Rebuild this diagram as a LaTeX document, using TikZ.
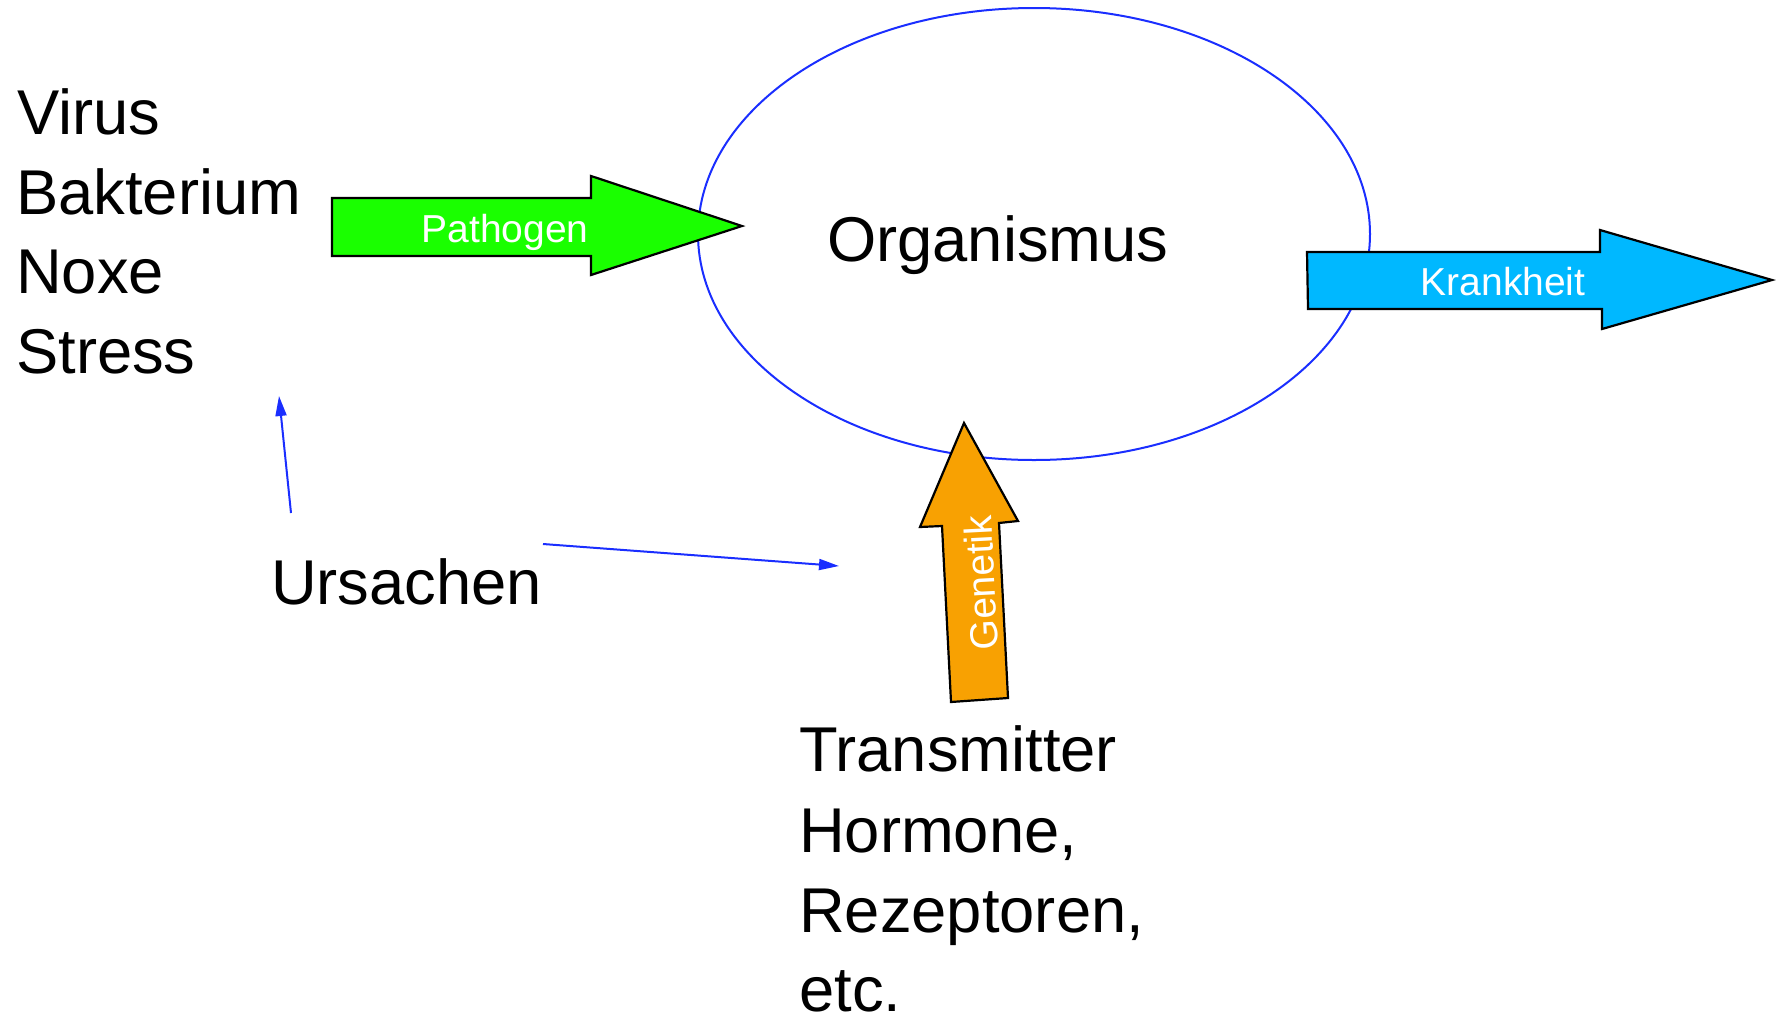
\documentclass[tikz,border=0pt]{standalone}
\usepackage{fontspec}
\setmainfont{Liberation Sans}
\usetikzlibrary{arrows.meta}
\definecolor{pathgreen}{HTML}{1AFF00}
\definecolor{krankblue}{HTML}{00B8FF}
\definecolor{genorange}{HTML}{F8A102}
\definecolor{linkblue}{HTML}{1A2EFF}
\tikzset{
  bigtext/.style={inner sep=0pt, anchor=base west, font=\fontsize{63.3}{80}\selectfont},
  arrowtext/.style={inner sep=0pt, anchor=base, text=white, font=\fontsize{39}{46}\selectfont},
  blockarrow/.style={draw=black, line width=2.2pt, line join=miter},
  causearrow/.style={draw=linkblue, line width=2pt, -{Triangle[length=20pt,width=11pt]}}
}
\begin{document}
\begin{tikzpicture}[x=1pt,y=-1pt]
\useasboundingbox (0,0) rectangle (1776,1015);
% Organism ellipse
\draw[linkblue, line width=2pt] (1034,234) ellipse [x radius=336, y radius=226];
\node[bigtext] (org) at (827,261) {Organismus};
% Pathogen arrow
\draw[blockarrow, fill=pathgreen] (332,198) -- (591,198) -- (591,176) -- (742,226) -- (591,275) -- (591,256) -- (332,256) -- cycle;
\node[arrowtext] (path) at (505,242) {Pathogen};
% Krankheit arrow
\draw[blockarrow, fill=krankblue] (1307,252) -- (1600,252) -- (1600,230) -- (1772,280) -- (1602,329) -- (1602,309) -- (1308,309) -- cycle;
\node[arrowtext] (krank) at (1503,295) {Krankheit};
% Genetik arrow
\draw[blockarrow, fill=genorange] (964,423) -- (1018,521) -- (999,523) -- (1008,698) -- (951,702) -- (942,526) -- (920,527) -- cycle;
\node[arrowtext, rotate=93] (gen) at (995,582) {Genetik};
% Left list
\node[bigtext] (virus) at (17,134) {Virus};
\node[bigtext] (bakt) at (16,214) {Bakterium};
\node[bigtext] (noxe) at (16,293) {Noxe};
\node[bigtext] (stress) at (16,373) {Stress};
% Ursachen
\node[bigtext] (urs) at (271,604) {Ursachen};
\coordinate (u1s) at (291,513);
\coordinate (u1e) at (279,396);
\coordinate (u2s) at (543,544);
\coordinate (u2e) at (839,566);
\draw[causearrow] (u1s) -- (u1e);
\draw[causearrow] (u2s) -- (u2e);
% Bottom list
\node[bigtext] (trans) at (799,771) {Transmitter};
\node[bigtext] (horm) at (799,852) {Hormone,};
\node[bigtext] (rez) at (799,932) {Rezeptoren,};
\node[bigtext] (etc) at (799,1011) {etc.};
\end{tikzpicture}
\end{document}
